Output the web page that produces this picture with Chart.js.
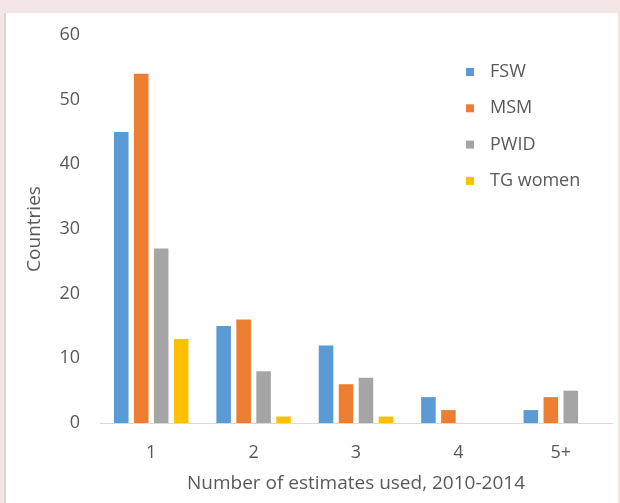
<!DOCTYPE html>
<html>
<head>
<meta charset="utf-8">
<script src="https://cdn.jsdelivr.net/npm/chart.js@4.4.0/dist/chart.umd.min.js"></script>
<style>
    html, body { margin: 0; padding: 0; }
    body { width: 620px; height: 503px; background: #f4e6e6; position: relative; overflow: hidden; }
    #panel {
        position: absolute; left: 4px; top: 13px; width: 614px; height: 490px;
        background: #fff; border-left: 2px solid #d6d6d6; box-sizing: border-box;
    }
    #wrap { position: absolute; left: 0; top: 0; width: 612px; height: 490px; }
</style>
</head>
<body>
<div id="panel"><div id="wrap"><canvas id="estimates_chart"></canvas></div></div>
<script>
var categories = ['1', '2', '3', '4', '5+'];
var fsw = [45, 15, 12, 4, 2];
var msm = [54, 16, 6, 2, 4];
var pwid = [27, 8, 7, 0, 5];
var tg_women = [13, 1, 1, 0, 0];
var y_ticks = [0, 10, 20, 30, 40, 50, 60];

var textColor = '#595959';

// legend drawn inside the plot, top right, like the original
var insideLegend = {
    id: 'insideLegend',
    afterDraw: function(chart, args, opts) {
        var ctx = chart.ctx;
        ctx.save();
        ctx.font = '18px "Open Sans"';
        ctx.textBaseline = 'middle';
        ctx.textAlign = 'left';
        chart.data.datasets.forEach(function(ds, i) {
            var y = opts.y + i * opts.step;
            ctx.fillStyle = ds.backgroundColor;
            ctx.fillRect(opts.x, y - 4, 8, 8);
            ctx.fillStyle = textColor;
            ctx.fillText(ds.label, opts.x + 24, y);
        });
        ctx.restore();
    }
};

var ctx = document.getElementById('estimates_chart').getContext('2d');
var myChart = new Chart(ctx, {
    type: 'bar',
    data: {
        labels: categories,
        datasets: [
            { label: 'FSW', data: fsw, backgroundColor: '#5b9bd5' },
            { label: 'MSM', data: msm, backgroundColor: '#ed7d31' },
            { label: 'PWID', data: pwid, backgroundColor: '#a5a5a5' },
            { label: 'TG women', data: tg_women, backgroundColor: '#ffc000' }
        ]
    },
    options: {
        responsive: true,
        maintainAspectRatio: false,
        animation: false,
        categoryPercentage: 0.78,
        barPercentage: 0.73,
        layout: { padding: { top: 22, right: 6, bottom: 0, left: 0 } },
        scales: {
            x: {
                grid: { display: false, drawTicks: false },
                border: { color: '#d9d9d9', width: 1 },
                ticks: { padding: 19, color: textColor, font: { size: 18, family: 'Open Sans' } },
                title: {
                    display: true,
                    text: 'Number of estimates used, 2010-2014',
                    color: textColor,
                    font: { size: 19, family: 'Open Sans' },
                    padding: { top: 4, bottom: 8 }
                },
                afterFit: function(scale) { scale.height = 80; }
            },
            y: {
                min: 0,
                max: 60,
                grid: { display: false, drawTicks: false },
                border: { display: false },
                afterBuildTicks: function(scale) {
                    scale.ticks = y_ticks.map(function(v) { return { value: v }; });
                },
                ticks: { padding: 20, color: textColor, font: { size: 18, family: 'Open Sans' } },
                title: {
                    display: true,
                    text: 'Countries',
                    color: textColor,
                    font: { size: 19, family: 'Open Sans' },
                    padding: { top: 17, bottom: 4 }
                },
                afterFit: function(scale) {
                    scale.width = 94;
                    scale.paddingTop = 0;
                    scale.paddingBottom = 0;
                }
            }
        },
        plugins: {
            legend: { display: false },
            tooltip: { enabled: false },
            insideLegend: { x: 460, y: 59, step: 36.3 }
        }
    },
    plugins: [insideLegend]
});
</script>
</body>
</html>
